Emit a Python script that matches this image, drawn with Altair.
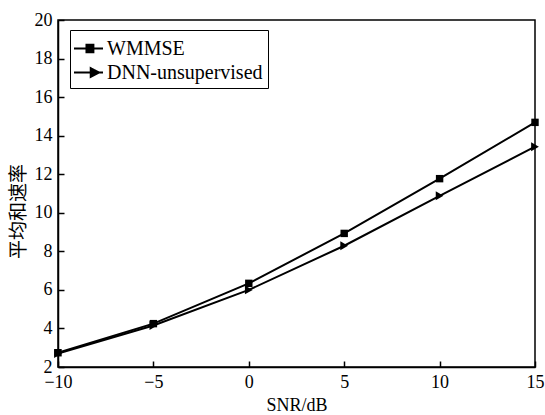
import altair as alt
import pandas as pd

snr = [-10, -5, 0, 5, 10, 15]
wmmse = [2.74, 4.25, 6.34, 8.93, 11.77, 14.69]
dnn = [2.70, 4.15, 6.00, 8.29, 10.88, 13.43]
series_names = ["WMMSE", "DNN-unsupervised"]
x_ticks = [-10, -5, 0, 5, 10, 15]
y_ticks = [2, 4, 6, 8, 10, 12, 14, 16, 18, 20]

rows = []
for name, vals in zip(series_names, [wmmse, dnn]):
    for s, v in zip(snr, vals):
        rows.append({"snr": s, "rate": v, "series": name})
df = pd.DataFrame(rows)

W, H = 477, 347
SERIF = "Liberation Serif"

xscale = alt.Scale(domain=[-10, 15], nice=False, zero=False)
yscale = alt.Scale(domain=[2, 20], nice=False, zero=False)

base = alt.Chart(df)

lines = base.mark_line(color="black", strokeWidth=2).encode(
    x=alt.X("snr:Q", scale=xscale,
            axis=alt.Axis(orient="bottom", values=x_ticks, ticks=False, grid=False,
                          title="SNR/dB", labelFlush=False,
                          labelFont=SERIF, labelFontSize=18, labelPadding=6,
                          titleFont=SERIF, titleFontSize=18, titleFontWeight="normal",
                          titleBaseline="alphabetic", titleY=43,
                          domainColor="black", domainWidth=1.5, labelColor="black",
                          titleColor="black")),
    y=alt.Y("rate:Q", scale=yscale,
            axis=alt.Axis(orient="left", values=y_ticks, ticks=False, grid=False,
                          title="平均和速率", labelFlush=False,
                          labelFont=SERIF, labelFontSize=18, labelPadding=6,
                          titleFont="Noto Sans CJK SC", titleFontSize=19,
                          titleFontWeight="normal", titleBaseline="middle",
                          titleX=-40, titleY=191,
                          domainColor="black", domainWidth=1.5, labelColor="black",
                          titleColor="black")),
    detail="series:N",
)

points = base.mark_point(filled=True, color="black", opacity=1).encode(
    x=alt.X("snr:Q", scale=xscale,
            axis=alt.Axis(orient="top", offset=-H, values=x_ticks, labels=False,
                          domain=False, grid=False, ticks=True, tickSize=6,
                          tickWidth=1.5, tickColor="black", title=None)),
    y=alt.Y("rate:Q", scale=yscale,
            axis=alt.Axis(orient="right", offset=-W, values=y_ticks, labels=False,
                          domain=False, grid=False, ticks=True, tickSize=6,
                          tickWidth=1.5, tickColor="black", title=None)),
    shape=alt.Shape("series:N",
                    scale=alt.Scale(domain=series_names, range=["square", "triangle-right"]),
                    legend=None),
    size=alt.Size("series:N",
                  scale=alt.Scale(domain=series_names, range=[55, 80]),
                  legend=None),
)

# legend glyphs: a line segment with a solid (hatched) marker in the middle
sq_path = ("M-1.16,0H1.16"
           "M-0.17,-0.3H0.4V0.3H-0.17Z"
           "M-0.17,-0.2H0.4M-0.17,-0.1H0.4M-0.17,0.1H0.4M-0.17,0.2H0.4")
tri_path = ("M-1.16,0H1.16"
            "M0.17,-0.36L0.86,0L0.17,0.36Z"
            "M0.17,-0.3H0.285M0.17,-0.2H0.477M0.17,-0.1H0.668"
            "M0.17,0.1H0.668M0.17,0.2H0.477M0.17,0.3H0.285"
            "M0.17,-0.36V0.36M0.25,-0.3V0.3M0.35,-0.25V0.25M0.45,-0.2V0.2M0.55,-0.15V0.15")

legend_layer = base.mark_point(filled=False, color="black", strokeWidth=1.8,
                               opacity=1).encode(
    x=alt.X("snr:Q", scale=xscale, axis=None),
    y=alt.Y("rate:Q", scale=yscale, axis=None),
    shape=alt.Shape("series:N",
                    scale=alt.Scale(domain=series_names, range=[sq_path, tri_path]),
                    legend=alt.Legend(title=None, orient="none", legendX=12, legendY=10,
                                      symbolSize=625, symbolStrokeWidth=1.8,
                                      symbolStrokeColor="black",
                                      symbolOpacity=1,
                                      labelFont=SERIF, labelFontSize=20,
                                      labelColor="black", labelOffset=5,
                                      padding=5, rowPadding=0,
                                      strokeColor="black", fillColor="white")),
).transform_filter("false")

chart = alt.layer(lines, points, legend_layer).resolve_scale(
    shape="independent", size="independent"
).resolve_axis(
    x="independent", y="independent"
).properties(
    width=W, height=H,
    background="white",
    autosize=alt.AutoSizeParams(type="none"),
    padding={"left": 58, "top": 20, "right": 10, "bottom": 48},
).configure_view(stroke="black", strokeWidth=1.5)

chart.save("out.html", embed_options={"renderer": "svg", "actions": False})
